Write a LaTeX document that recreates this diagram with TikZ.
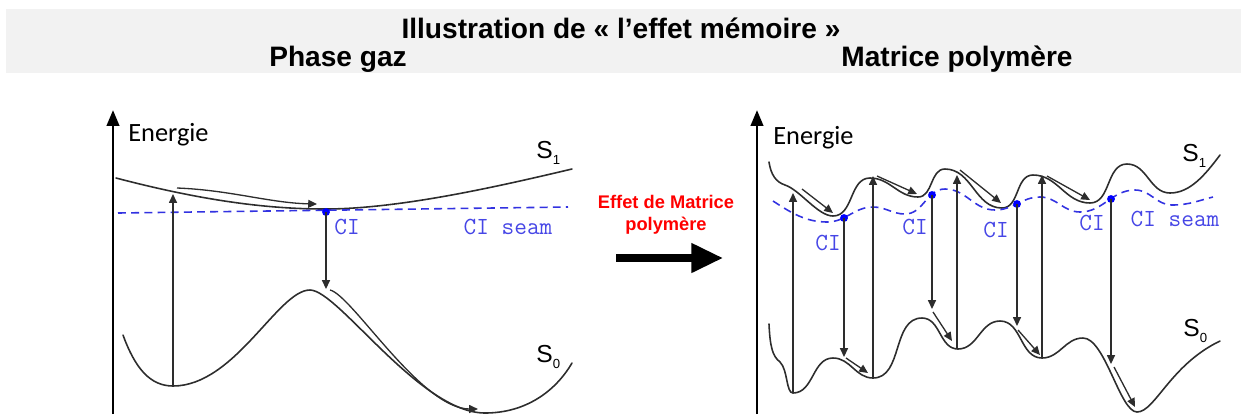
\documentclass[tikz,border=0pt]{standalone}
\usepackage{fontspec}
\setmainfont{Liberation Sans}
\newfontfamily\calibri{Carlito}
\usetikzlibrary{arrows.meta, positioning}
\definecolor{bandgray}{RGB}{242,242,242}
\definecolor{curvegray}{RGB}{45,45,45}
\definecolor{seamblue}{RGB}{50,50,225}
\definecolor{cilabel}{RGB}{70,70,230}
\definecolor{effetred}{RGB}{255,0,0}
\tikzset{
  pes/.style={curvegray, line width=0.9pt, line cap=round},
  seam/.style={seamblue, line width=0.9pt, dash pattern=on 4.5pt off 3pt},
  trans/.style={curvegray, line width=0.75pt, -{Triangle[length=5pt,width=4.5pt]}},
  slide/.style={curvegray, line width=0.75pt, -{Triangle[length=5pt,width=4.5pt]}},
  cidot/.style={fill=blue, circle, inner sep=0pt, minimum size=4.5pt},
  cilab/.style={font=\ttfamily\fontsize{14}{14}\selectfont, text=cilabel, inner sep=0pt},
  statelab/.style={font=\fontsize{14}{14}\selectfont, inner sep=0pt, anchor=base west},
  axisline/.style={black, line width=1.6pt, -{Triangle[length=9pt,width=7pt]}},
  energ/.style={font=\calibri\fontsize{15}{15}\selectfont, inner sep=0pt, anchor=west},
  heading/.style={font=\bfseries\fontsize{16}{19}\selectfont, inner sep=0pt},
  wave/.style={out=0, in=180},
}
\newcommand{\Sstate}[1]{S\raisebox{-3.5pt}{\fontsize{7.5}{7.5}\selectfont #1}}

\begin{document}
\begin{tikzpicture}[x=0.02cm, y=-0.02cm]
  \useasboundingbox (0,0) rectangle (1241,414);
  % header band
  \fill[bandgray] (6,9) rectangle (1241,73);
  \node[heading] (title) at (621,28) {Illustration de « l’effet mémoire »};
  \node[heading] (gas) at (338,59) {Phase gaz};
  \node[heading] (matrix) at (957,59) {Matrice polymère};

  % ---- gas phase ----
  \coordinate (axL0) at (113,414);
  \coordinate (axL1) at (113,110);
  \draw[axisline] (axL0) -- (axL1);
  \node[energ] (enL) at (128,135) {Energie};

  \draw[pes] (116,178) .. controls (200,200) and (265,209) .. (325,209)
                       .. controls (400,209) and (500,186) .. (572,169);
  \draw[pes] (123,335) .. controls (135,368) and (150,386) .. (173,386)
             .. controls (235,386) and (278,290) .. (310,290)
             .. controls (338,290) and (420,413) .. (485,413)
             .. controls (525,413) and (555,392) .. (572,363);
  \draw[seam] (118,213) -- (568,207);
  \node[statelab] (s1L) at (536,158) {\Sstate{1}};
  \node[statelab] (s0L) at (536,362) {\Sstate{0}};

  \node[cidot] (ci0) at (326,212) {};
  \node[cilab] (ciL) at (347,227) {CI};
  \node[cilab] (seamL) at (508,227) {CI seam};

  \coordinate (exL0) at (173,386);
  \coordinate (exL1) at (173,194);
  \draw[trans] (exL0) -- (exL1);
  \coordinate (dnL) at (326,289);
  \draw[trans] (ci0.center) -- (dnL);
  \draw[slide] (177,188) .. controls (230,190) and (270,203) .. (317,204);
  \draw[slide] (330,290) .. controls (352,295) and (421,409) .. (478,409);

  % ---- middle ----
  \node[font=\bfseries\fontsize{10.4}{12.5}\selectfont, text=effetred, align=center] (effet) at (666,215) {Effet de Matrice\\polymère};
  \coordinate (m0) at (616,258);
  \coordinate (m1) at (723,258);
  \draw[black, line width=4pt, -{Triangle[length=18pt,width=16pt]}] (m0) -- (m1);

  % ---- polymer matrix ----
  \coordinate (axR0) at (757,414);
  \coordinate (axR1) at (757,110);
  \draw[axisline] (axR0) -- (axR1);
  \node[energ] (enR) at (773,138) {Energie};

  \draw[pes] (769,162) .. controls (771,175) and (776,182) .. (785,185)
             .. controls (800,190) and (818,216) .. (833,216)
             to[wave] (870,178) to[wave] (918,197) to[wave] (945,169)
             to[wave] (1002,208) to[wave] (1033,175) to[wave] (1090,203)
             to[wave] (1127,164) to[wave] (1170,193)
             .. controls (1190,193) and (1205,175) .. (1220,155);
  \draw[pes] (769,324) .. controls (770,345) and (772,356) .. (780,362)
             .. controls (788,370) and (786,393) .. (793,393)
             to[wave] (833,358) to[wave] (873,378) to[wave] (922,318)
             to[wave] (958,349) to[wave] (1000,321) to[wave] (1042,358)
             to[wave] (1083,338)
             .. controls (1105,338) and (1120,412) .. (1137,412)
             .. controls (1155,412) and (1170,365) .. (1220,341);
  \draw[seam] (773,201) .. controls (790,212) and (805,222) .. (827,222)
              to[wave] (873,207) to[wave] (905,214) to[wave] (945,189)
              to[wave] (995,210) to[wave] (1040,197) to[wave] (1080,212)
              to[wave] (1135,190) to[wave] (1172,205)
              .. controls (1190,205) and (1200,200) .. (1213,197);
  \node[statelab] (s1R) at (1182,161) {\Sstate{1}};
  \node[statelab] (s0R) at (1183,336) {\Sstate{0}};

  % excitations S0 -> S1
  \foreach \i/\x/\ya/\yb in {1/793/392/193, 2/873/377/176, 3/957/348/175, 4/1042/357/175}{
    \coordinate (ex\i a) at (\x,\ya);
    \coordinate (ex\i b) at (\x,\yb);
    \draw[trans] (ex\i a) -- (ex\i b);
  }
  % conical intersections and decay
  \foreach \i/\x/\ya/\yb/\lx/\ly in {1/844/218/357/828/243, 2/932/195/309/915/227, 3/1017/204/326/996/230, 4/1111/199/364/1092/223}{
    \node[cidot] (ci\i) at (\x,\ya) {};
    \node[cilab] (cil\i) at (\lx,\ly) {CI};
    \coordinate (dn\i) at (\x,\yb);
    \draw[trans] (ci\i.center) -- (dn\i);
  }
  \node[cilab] (seamR) at (1175,219) {CI seam};

  % relaxation along the surfaces
  \foreach \xa/\ya/\xb/\yb in {802/189/833/213, 877/176/917/194, 960/170/1001/203, 1047/176/1090/200,
                               846/358/868/373, 933/312/952/341, 1018/330/1040/355, 1114/367/1135/407}
    \draw[slide] (\xa,\ya) -- (\xb,\yb);
\end{tikzpicture}
\end{document}
